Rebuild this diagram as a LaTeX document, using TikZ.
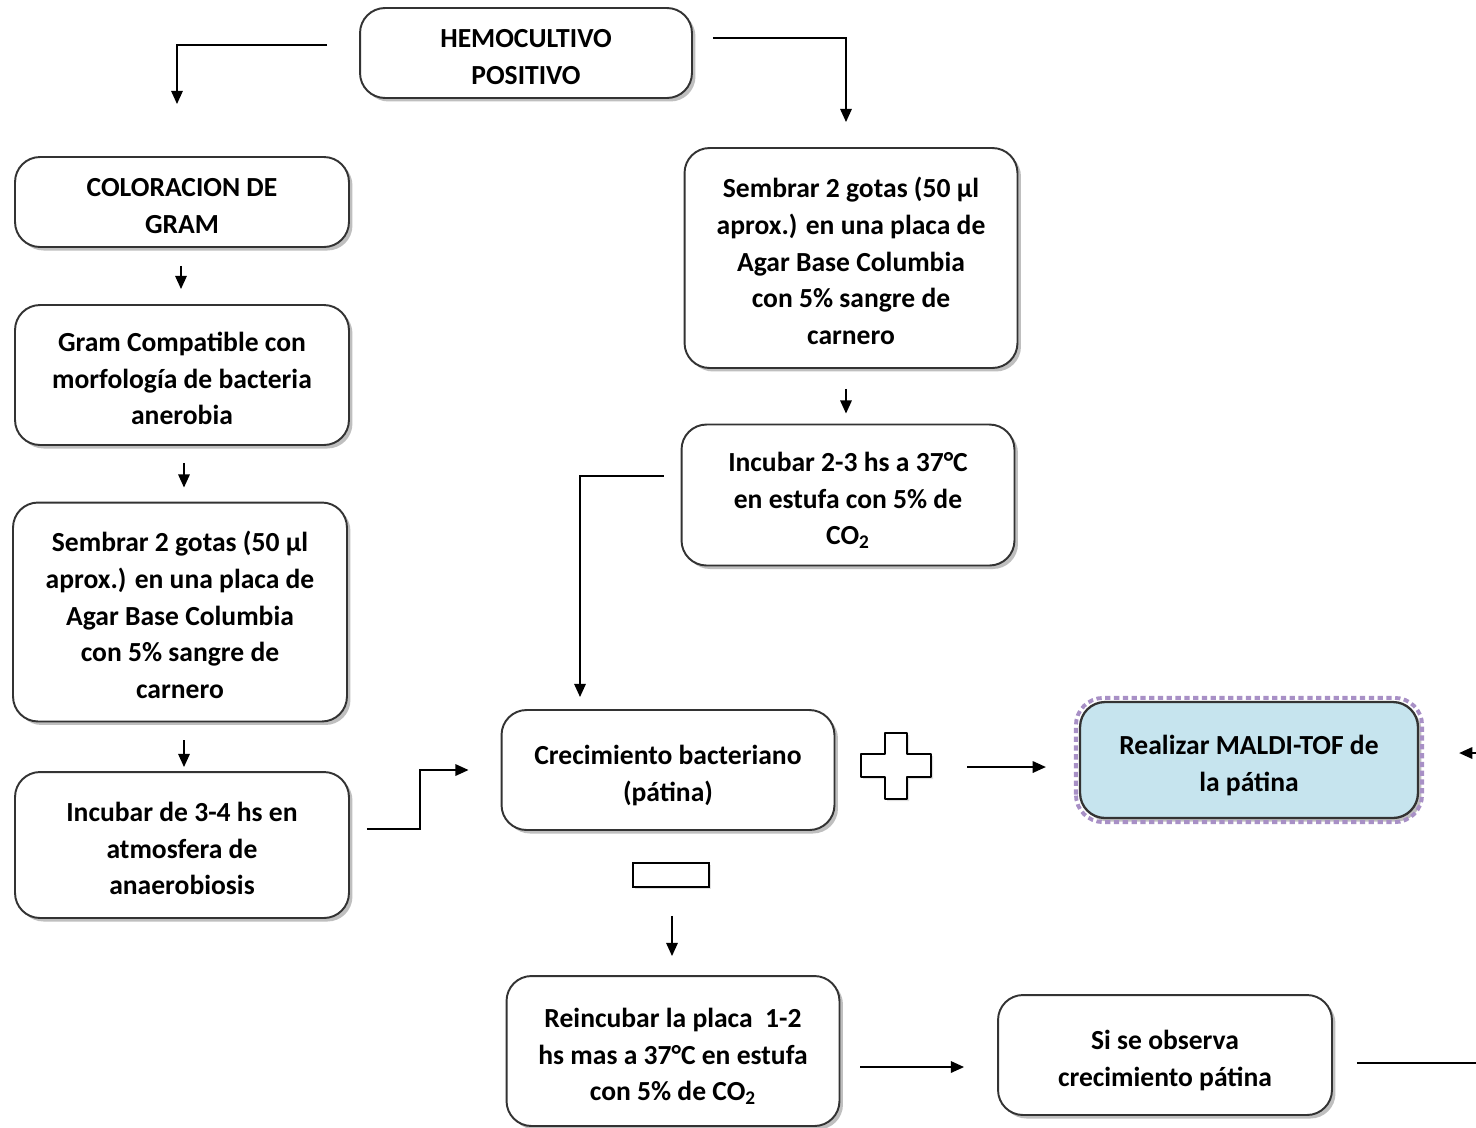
\documentclass[tikz,border=0pt]{standalone}
\usepackage{fontspec}
\setmainfont{Carlito}
\usetikzlibrary{arrows.meta,calc,shadows}
\definecolor{boxline}{HTML}{333333}
\definecolor{maldifill}{HTML}{C6E4EE}
\definecolor{maldidash}{HTML}{A890C6}
\newcommand{\boxtext}[1]{\raisebox{-3.2pt}[\height][\depth]{\begin{tabular}{@{}c@{}}#1\end{tabular}}}
\tikzset{
  box/.style={draw=boxline, line width=1.1pt, rounded corners=0.5cm, fill=white,
    align=center, inner sep=0pt, text=black,
    font=\fontsize{15.7}{21}\selectfont\bfseries,
    drop shadow={shadow xshift=0.07cm, shadow yshift=-0.07cm, fill=black!45, opacity=0.55}},
  arr/.style={line width=1.1pt, -{Triangle[length=7.5pt,width=6.5pt]}},
  conn/.style={line width=1.1pt},
}
\begin{document}
\begin{tikzpicture}[x=0.02cm,y=-0.02cm]
\useasboundingbox (0,0) rectangle (1476,1127);
\fill[white] (0,0) rectangle (1476,1127);

\node[box, minimum width=6.64cm, minimum height=1.8cm] (hemo) at (526,53) {\boxtext{HEMOCULTIVO\\POSITIVO}};
\node[box, minimum width=6.68cm, minimum height=1.8cm] (gram) at (182,202) {\boxtext{COLORACION DE\\GRAM}};
\node[box, minimum width=6.68cm, minimum height=2.8cm] (compat) at (182,375) {\boxtext{Gram Compatible con\\morfología de bacteria\\anerobia}};
\node[box, minimum width=6.68cm, minimum height=4.38cm] (semL) at (180,612) {\boxtext{Sembrar 2 gotas (50 µl\\aprox.) en una placa de\\Agar Base Columbia\\con 5\% sangre de\\carnero}};
\node[box, minimum width=6.68cm, minimum height=2.92cm] (incL) at (182,845) {\boxtext{Incubar de 3-4 hs en\\atmosfera de\\anaerobiosis}};
\node[box, minimum width=6.66cm, minimum height=4.4cm] (semR) at (851,258) {\boxtext{Sembrar 2 gotas (50 µl\\aprox.) en una placa de\\Agar Base Columbia\\con 5\% sangre de\\carnero}};
\node[box, minimum width=6.66cm, minimum height=2.82cm] (inc23) at (848,495) {\boxtext{Incubar 2-3 hs a 37°C\\en estufa con 5\% de\\CO\textsubscript{2}}};
\node[box, minimum width=6.66cm, minimum height=2.4cm] (crec) at (668,770) {\boxtext{Crecimiento bacteriano\\(pátina)}};
\node[box, minimum width=6.76cm, minimum height=2.32cm, fill=maldifill, line width=1.3pt] (maldi) at (1249,760) {\boxtext{Realizar MALDI-TOF de\\la pátina}};
\draw[maldidash, line width=2.2pt, dash pattern=on 3pt off 2pt, rounded corners=0.55cm]
  ($(maldi.south west)+(-3,3)$) rectangle ($(maldi.north east)+(3,-3)$);
\node[box, minimum width=6.66cm, minimum height=3.0cm] (reinc) at (673,1051) {\boxtext{Reincubar la placa~ 1-2\\hs mas a 37°C en estufa\\con 5\% de CO\textsubscript{2}}};
\node[box, minimum width=6.68cm, minimum height=2.4cm] (si) at (1165,1055) {\boxtext{Si se observa\\crecimiento pátina}};

% plus sign
\node[minimum width=1.4cm, minimum height=1.32cm, inner sep=0pt] (plus) at (896,766) {};
\draw[line width=1.1pt, fill=white, line join=round,
  drop shadow={shadow xshift=0.04cm, shadow yshift=-0.04cm, fill=black!30, opacity=0.4}]
  ($(plus.center)+(-11,-33)$) -- ($(plus.center)+(11,-33)$) -- ($(plus.center)+(11,-12)$)
  -- ($(plus.center)+(35,-12)$) -- ($(plus.center)+(35,11)$) -- ($(plus.center)+(11,11)$)
  -- ($(plus.center)+(11,33)$) -- ($(plus.center)+(-11,33)$) -- ($(plus.center)+(-11,11)$)
  -- ($(plus.center)+(-35,11)$) -- ($(plus.center)+(-35,-12)$) -- ($(plus.center)+(-11,-12)$) -- cycle;
% minus sign
\node[draw, line width=1.1pt, minimum width=1.52cm, minimum height=0.48cm, inner sep=0pt, fill=white,
  drop shadow={shadow xshift=0.04cm, shadow yshift=-0.04cm, fill=black!30, opacity=0.4}] (minus) at (671,875) {};

% connectors
\draw[arr] ($(hemo.west)+(-32,-8)$) -| ($(gram.north)+(-5,-52)$);
\draw[arr] ($(hemo.east)+(20,-15)$) -| ($(semR.north)+(-5,-25)$);
\draw[arr] ($(gram.south)+(-1,18)$) -- ($(compat.north)+(-1,-15)$);
\draw[arr] ($(compat.south)+(2,17)$) -- ($(semL.north)+(4,-14)$);
\draw[arr] ($(semL.south)+(4,18)$) -- ($(incL.north)+(2,-4)$);
\draw[arr] ($(semR.south)+(-5,20)$) -- ($(inc23.north)+(-2,-10)$);
\draw[arr] ($(inc23.west)+(-17,-19)$) -| ($(crec.north)+(-88,-12)$);
\draw[arr] ($(incL.east)+(17,-16)$) -- ++(53,0) |- ($(crec.west)+(-32,0)$);
\draw[arr] ($(plus.east)+(36,1)$) -- ($(maldi.west)+(-33,7)$);
\draw[arr] ($(minus.south)+(1,28)$) -- ($(reinc.north)+(-1,-19)$);
\draw[arr] ($(reinc.east)+(20,16)$) -- ($(si.west)+(-33,12)$);
\coordinate (edgeA) at (1480,1063);
\coordinate (edgeB) at (1482,753);
\draw[conn] ($(si.east)+(24,8)$) -- (edgeA);
\draw[arr] (edgeB) -- ($(maldi.east)+(40,-7)$);
\end{tikzpicture}
\end{document}
